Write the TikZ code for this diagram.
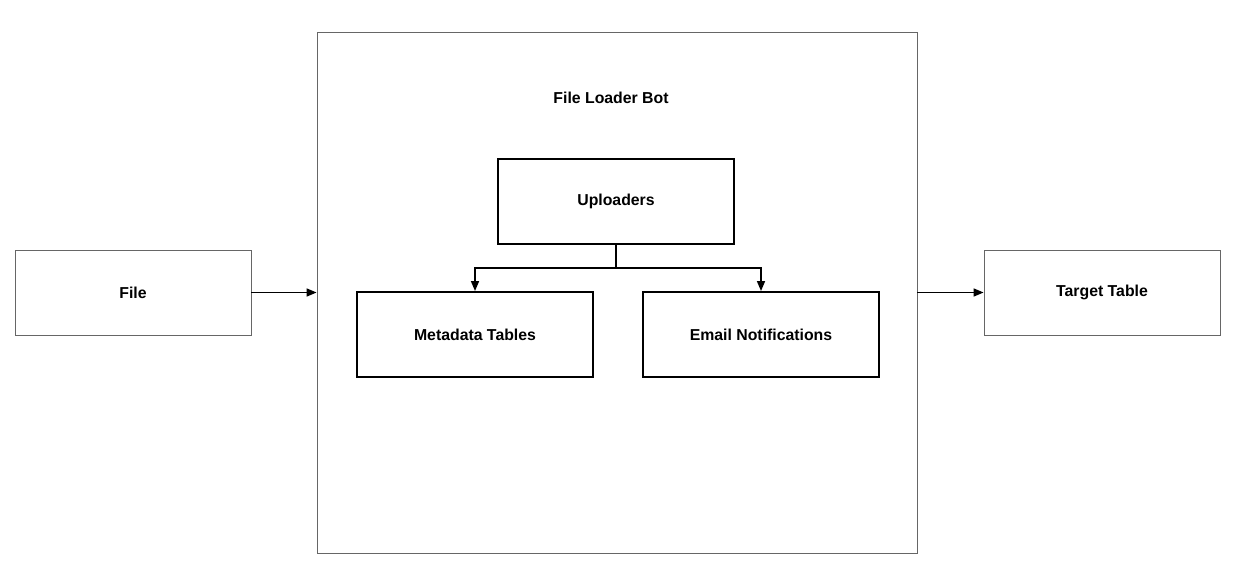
\documentclass[tikz,border=0pt]{standalone}
\usepackage{fontspec}
\setmainfont{Liberation Sans}
\usetikzlibrary{arrows.meta}

\begin{document}
\begin{tikzpicture}[
outerbox/.style={
    draw=black!60,
    line width=0.5pt,
    minimum width=4.72cm,
    minimum height=1.7cm,
    font=\fontsize{9}{11}\selectfont\bfseries
},
innerbox/.style={
    draw=black,
    line width=1.1pt,
    minimum width=4.72cm,
    minimum height=1.7cm,
    font=\fontsize{9}{11}\selectfont\bfseries
},
link/.style={
    draw=black,
    line width=0.9pt,
    -{Triangle[length=2mm,width=1.6mm]}
}
]
\useasboundingbox (0,0) rectangle (24.78,11.74);

\node[outerbox, minimum width=12cm, minimum height=10.42cm] (bot) at (12.34,5.89) {};
\node[font=\fontsize{9}{11}\selectfont\bfseries] (title) at (12.22,9.78) {File Loader Bot};

\node[outerbox] (file) at (2.66,5.89) {File};
\node[outerbox] (target) at (22.04,5.89) {Target Table};

\node[innerbox] (up) at (12.32,7.71) {Uploaders};
\node[innerbox] (meta) at (9.5,5.05) {Metadata Tables};
\node[innerbox] (email) at (15.22,5.05) {Email Notifications};

\coordinate (split) at (12.32,6.38);

\draw[line width=0.9pt] (up.south) -- (split);
\draw[link] (split) -| (meta.north);
\draw[link] (split) -| (email.north);

\draw[link] (file.east) -- (bot.west);
\draw[link] (bot.east) -- (target.west);
\end{tikzpicture}
\end{document}
